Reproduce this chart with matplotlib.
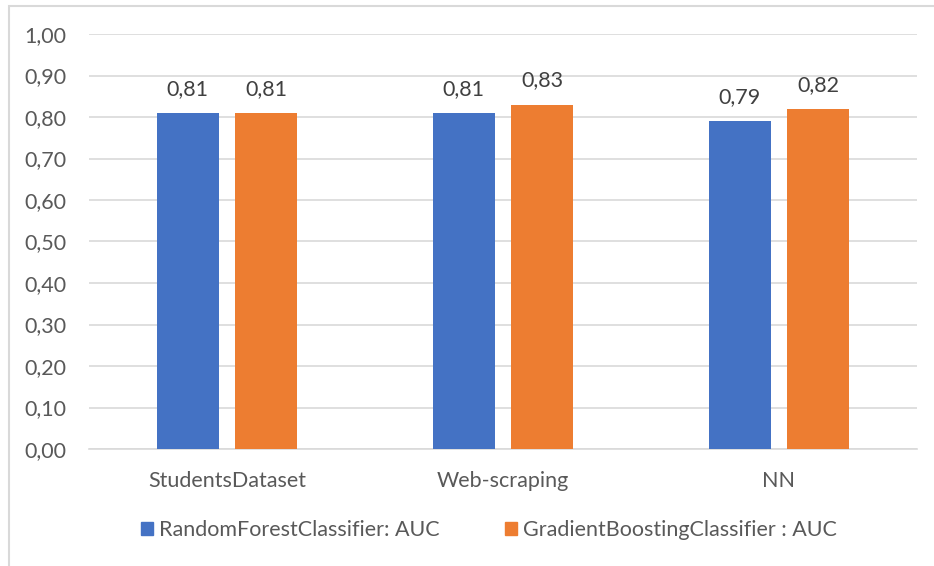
#!/usr/bin/env python3
# -*- coding: utf-8 -*-
import matplotlib

matplotlib.use("Agg")

import numpy as np
import matplotlib.pyplot as plt
from matplotlib.patches import Patch, Rectangle
from matplotlib.ticker import FuncFormatter, MultipleLocator

IMAGE_DPI = 100.0

categories = ["StudentsDataset", "Web-scraping", "NN"]
series_names = ["RandomForestClassifier: AUC", "GradientBoostingClassifier : AUC"]
rf_auc = [0.81, 0.81, 0.79]
gb_auc = [0.81, 0.83, 0.82]

BLUE = "#4472C4"
ORANGE = "#ED7D31"
TEXT = "#595959"
GRID = "#D9D9D9"
FONT_SIZE = 15.5

plt.rcParams["font.family"] = ["Lato", "DejaVu Sans"]
plt.rcParams["font.size"] = FONT_SIZE


def comma(v, _pos=None):
    return f"{v:.2f}".replace(".", ",")


fig = plt.figure(figsize=(934 / IMAGE_DPI, 566 / IMAGE_DPI), dpi=IMAGE_DPI)
fig.patch.set_facecolor("white")

# chart frame (light grey border, only top/left visible in the crop)
fig.patches.append(
    Rectangle((9 / 934, -0.05), 1.2, 1.05 - 6 / 566, transform=fig.transFigure,
              fill=False, edgecolor="#D9D9D9", linewidth=1.5)
)

ax = fig.add_axes([89 / 934, 1 - 449 / 566, (917 - 89) / 934, (449 - 34) / 566])

x = np.arange(len(categories))
width = 0.224
offset = 0.142

bars_rf = ax.bar(x - offset, rf_auc, width, color=BLUE, zorder=3)
bars_gb = ax.bar(x + offset, gb_auc, width, color=ORANGE, zorder=3)

for bars in (bars_rf, bars_gb):
    for b in bars:
        ax.annotate(comma(b.get_height()),
                    (b.get_x() + b.get_width() / 2, b.get_height()),
                    xytext=(0, 18), textcoords="offset pixels",
                    ha="center", va="baseline", color="#404040", fontsize=FONT_SIZE)

ax.set_xlim(-0.5, len(categories) - 0.5)
ax.set_ylim(0, 1.0)
ax.yaxis.set_major_locator(MultipleLocator(0.1))
ax.yaxis.set_major_formatter(FuncFormatter(comma))
ax.grid(axis="y", color=GRID, linewidth=1.2, zorder=0)
ax.set_axisbelow(True)

ax.set_xticks(x)
ax.set_xticklabels(categories)
ax.tick_params(axis="both", length=0, colors=TEXT, labelsize=FONT_SIZE)
ax.tick_params(axis="y", pad=16)
ax.tick_params(axis="x", pad=16)

for side in ("top", "right", "left"):
    ax.spines[side].set_visible(False)
ax.spines["bottom"].set_color(GRID)
ax.spines["bottom"].set_linewidth(1.2)

handles = [Patch(color=BLUE), Patch(color=ORANGE)]
fig.legend(handles, series_names, loc="center", bbox_to_anchor=(489 / 934, 1 - 530 / 566),
           ncol=2, frameon=False, fontsize=FONT_SIZE, labelcolor=TEXT,
           handlelength=0.55, handleheight=0.55, handletextpad=0.3, columnspacing=3.0)

fig.savefig("out.png", dpi=IMAGE_DPI)
